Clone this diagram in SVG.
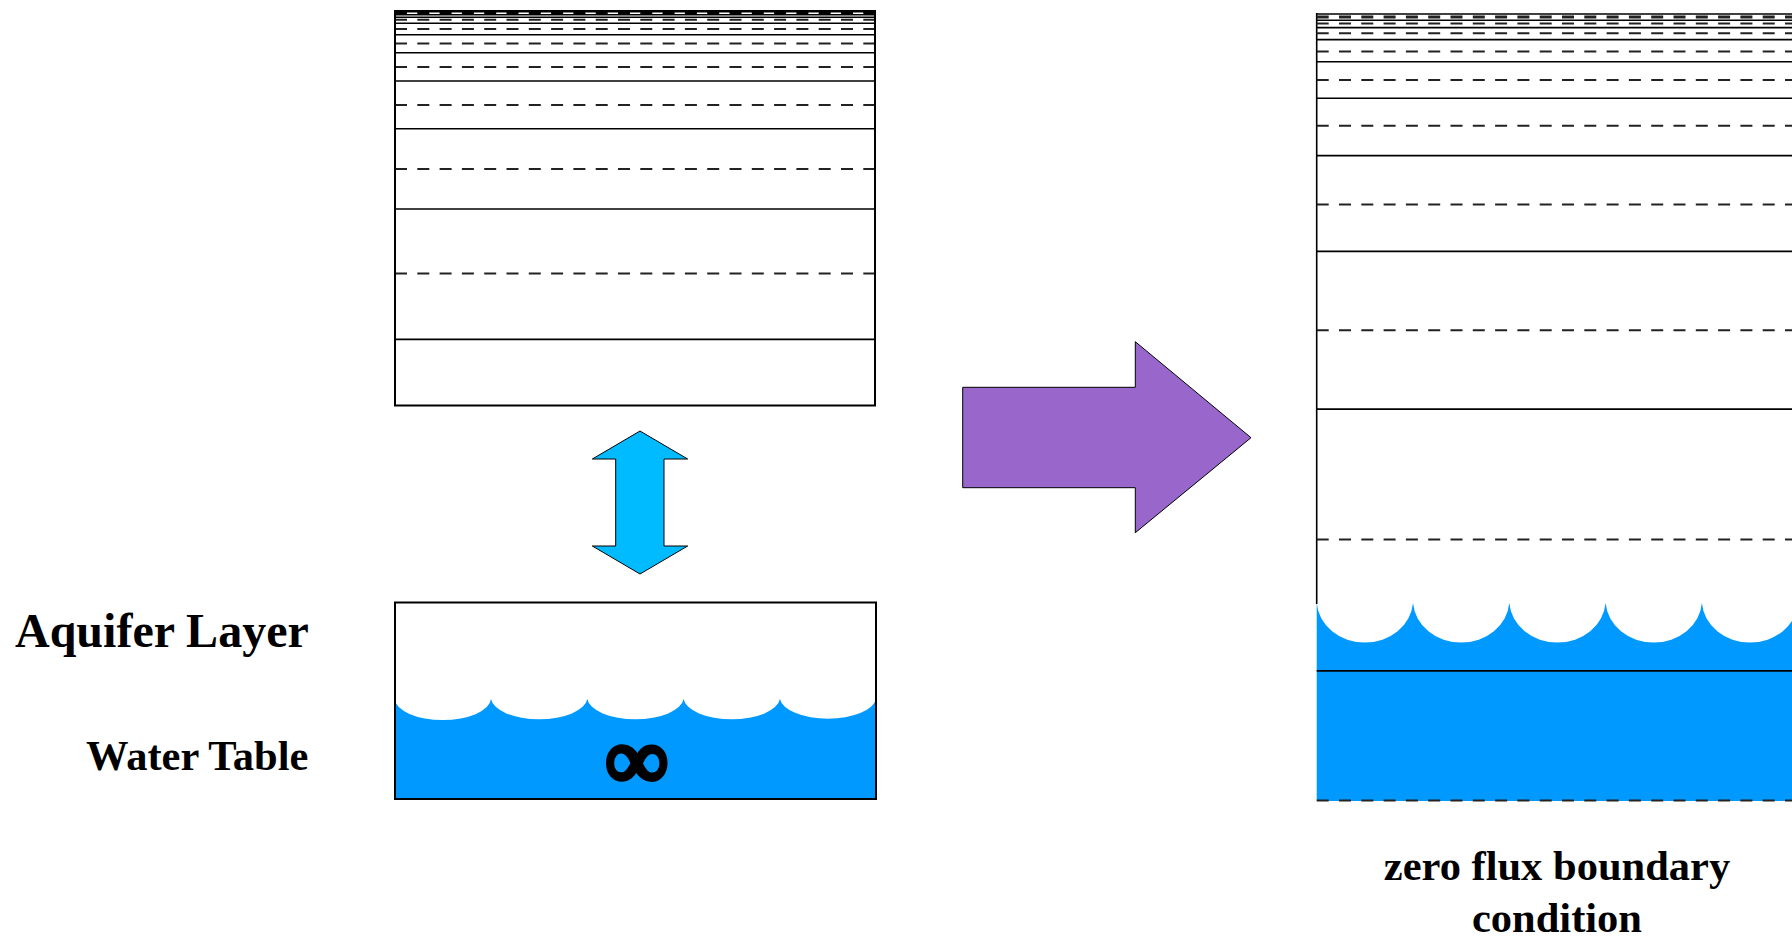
<svg xmlns="http://www.w3.org/2000/svg" width="1792" height="938" viewBox="0 0 1792 938">
  <style>
    .solid { stroke: #000; stroke-width: 1.6; fill: none; }
    .dash { stroke: #222; stroke-width: 2; fill: none; stroke-dasharray: 12 10.3; }
    .gapdash { stroke: #fff; stroke-width: 1.6; fill: none; stroke-dasharray: 10.3 12; stroke-dashoffset: 10.3; }
    .border { stroke: #000; stroke-width: 2; fill: none; }
    .water { fill: #0099FF; }
    .label { font-family: "Liberation Serif", "Times New Roman", serif; font-weight: bold; fill: #000; }
  </style>
  <rect width="1792" height="938" fill="#fff"/>

  <!-- Left soil column: layers thinning toward the surface -->
  <g id="soil-column">
    <!-- the thinnest surface layers merge into one dark band -->
    <rect x="395" y="10.5" width="480" height="5" fill="#000"/>
    <line class="gapdash" x1="395" y1="13.3" x2="875" y2="13.3"/>
    <g class="solid">
      <line x1="395" y1="17.3" x2="875" y2="17.3"/>
      <line x1="395" y1="23.3" x2="875" y2="23.3"/>
      <line x1="395" y1="34.7" x2="875" y2="34.7"/>
      <line x1="395" y1="52.7" x2="875" y2="52.7"/>
      <line x1="395" y1="81" x2="875" y2="81"/>
      <line x1="395" y1="128.7" x2="875" y2="128.7"/>
      <line x1="395" y1="209" x2="875" y2="209"/>
      <line x1="395" y1="339.4" x2="875" y2="339.4"/>
    </g>
    <g class="dash">
      <line x1="395" y1="19.8" x2="875" y2="19.8"/>
      <line x1="395" y1="29" x2="875" y2="29"/>
      <line x1="395" y1="43.5" x2="875" y2="43.5"/>
      <line x1="395" y1="67" x2="875" y2="67"/>
      <line x1="395" y1="105" x2="875" y2="105"/>
      <line x1="395" y1="169" x2="875" y2="169"/>
      <line x1="395" y1="273.5" x2="875" y2="273.5"/>
    </g>
    <rect class="border" x="395" y="11" width="480" height="394.5"/>
  </g>

  <!-- Aquifer box with water table -->
  <g id="aquifer-box">
    <path class="water" d="M394.5,699 A48.3,22 0 0 0 491,699 A48.3,22 0 0 0 587.3,699 A48.3,22 0 0 0 683.6,699 A48.3,22 0 0 0 779.9,699 A48.3,22 0 0 0 876,699 V799 H394.5 Z"/>
    <rect class="border" x="395" y="602.5" width="481" height="196.5"/>
    <text class="label" x="637" y="788" font-size="86" text-anchor="middle" stroke="#000" stroke-width="5" stroke-linejoin="round">∞</text>
  </g>

  <!-- Extended soil column reaching into the water table -->
  <g id="extended-column">
    <path class="water" d="M1316.7,603 A48.3,43 0 0 0 1413,603 A48.3,43 0 0 0 1509.3,603 A48.3,43 0 0 0 1605.6,603 A48.3,43 0 0 0 1701.9,603 A48.3,43 0 0 0 1798.2,603 V801 H1316.7 Z"/>
    <g class="solid">
      <line x1="1316.7" y1="14" x2="1792" y2="14"/>
      <line x1="1316.7" y1="20.3" x2="1792" y2="20.3"/>
      <line x1="1316.7" y1="27.6" x2="1792" y2="27.6"/>
      <line x1="1316.7" y1="39.6" x2="1792" y2="39.6"/>
      <line x1="1316.7" y1="61.7" x2="1792" y2="61.7"/>
      <line x1="1316.7" y1="98.3" x2="1792" y2="98.3"/>
      <line x1="1316.7" y1="155.6" x2="1792" y2="155.6"/>
      <line x1="1316.7" y1="251.4" x2="1792" y2="251.4"/>
      <line x1="1316.7" y1="409.1" x2="1792" y2="409.1"/>
      <line x1="1316.7" y1="670.9" x2="1792" y2="670.9"/>
      <line x1="1316.7" y1="13" x2="1316.7" y2="604"/>
    </g>
    <g class="dash">
      <line x1="1316.7" y1="17" x2="1792" y2="17" stroke-width="3"/>
      <line x1="1316.7" y1="23.5" x2="1792" y2="23.5"/>
      <line x1="1316.7" y1="33.2" x2="1792" y2="33.2"/>
      <line x1="1316.7" y1="51.5" x2="1792" y2="51.5"/>
      <line x1="1316.7" y1="80" x2="1792" y2="80"/>
      <line x1="1316.7" y1="125.7" x2="1792" y2="125.7"/>
      <line x1="1316.7" y1="204.6" x2="1792" y2="204.6"/>
      <line x1="1316.7" y1="330.3" x2="1792" y2="330.3"/>
      <line x1="1316.7" y1="539.4" x2="1792" y2="539.4"/>
      <line x1="1316.7" y1="800.5" x2="1792" y2="800.5"/>
    </g>
  </g>

  <!-- Arrows -->
  <g id="connectors">
    <polygon points="640,431 687.7,459 664,459 664,546 687.7,546 640,574 592.3,546 615.7,546 615.7,459 592.3,459" fill="#00BBFF" stroke="#000" stroke-width="1"/>
    <polygon points="962.7,387.3 1135.3,387.3 1135.3,341.7 1251,437.7 1135.3,532.7 1135.3,487.7 962.7,487.7" fill="#9966CC" stroke="#000" stroke-width="1"/>
  </g>

  <!-- Labels -->
  <g id="labels">
    <text class="label" x="15" y="647" font-size="48">Aquifer Layer</text>
    <text class="label" x="86" y="770" font-size="42.5">Water Table</text>
    <text class="label" x="1557" y="880" font-size="42.5" text-anchor="middle">zero flux boundary</text>
    <text class="label" x="1557" y="932" font-size="42.5" text-anchor="middle">condition</text>
  </g>
</svg>
